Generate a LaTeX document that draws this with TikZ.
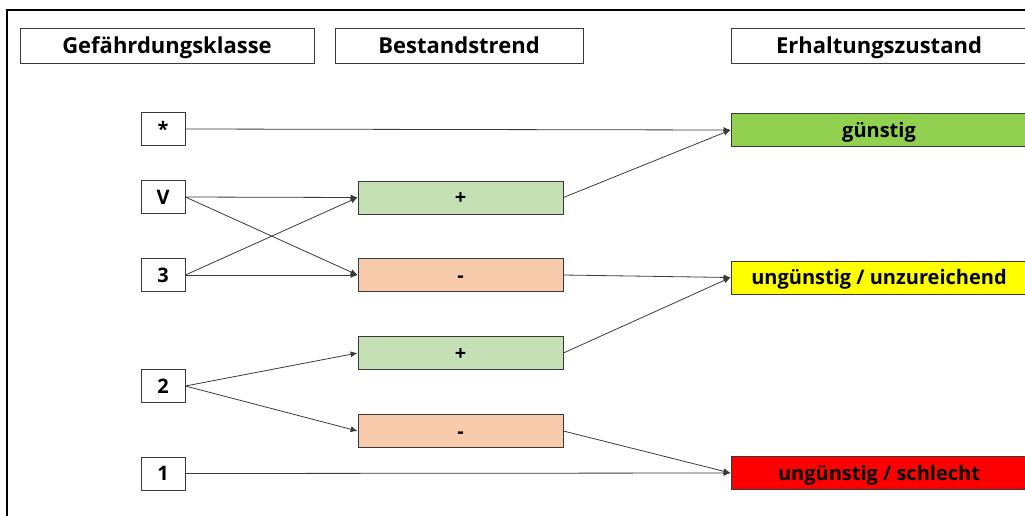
\documentclass[tikz,border=0pt]{standalone}
\usepackage{fontspec}
\setmainfont{Open Sans}
\usepackage{xcolor}
\usepackage{tikz}
\usetikzlibrary{arrows.meta, positioning}
\definecolor{plusgreen}{HTML}{C5E0B4}
\definecolor{minusorange}{HTML}{F8CBAD}
\definecolor{guengreen}{HTML}{92D050}
\definecolor{unzyellow}{HTML}{FFFF00}
\definecolor{schlred}{HTML}{FF0000}
\definecolor{edgegray}{HTML}{3A3A3A}

\begin{document}
\begin{tikzpicture}[
  x=1pt, y=-1pt,
  box/.style={draw=edgegray, line width=0.8pt, inner sep=0pt, font=\fontsize{20}{24}\selectfont\bfseries, text height=14.3pt, text depth=0pt},
  kopf/.style={box, font=\fontsize{22}{26}\selectfont\bfseries, text height=15.7pt, minimum height=35pt},
  klasse/.style={box, minimum width=44pt, minimum height=33pt},
  trend/.style={box, minimum width=205pt, minimum height=33pt},
  zustand/.style={box, minimum width=296pt, minimum height=33pt},
  pfeil/.style={-{Latex[length=7pt,width=6pt]}, draw=edgegray, line width=0.8pt},
]
  \useasboundingbox (0,0) rectangle (1025,515);
  \begin{scope}
    \clip (0,0) rectangle (1025,515);
    \draw[line width=1.6pt] (7,530) -- (7,10) -- (1040,10);

    % column heads
    \node[kopf, minimum width=294pt] (hKlasse) at (167,45.5) {Gefährdungsklasse};
    \node[kopf, minimum width=248pt] (hTrend) at (459,45.5) {Bestandstrend};
    \node[kopf, minimum width=296pt] (hZustand) at (879,45.5) {Erhaltungszustand};

    % Gefaehrdungsklassen
    \node[klasse] (kStern) at (163,129) {*};
    \node[klasse] (kV) at (163,197) {V};
    \node[klasse] (kDrei) at (163,275) {3};
    \node[klasse] (kZwei) at (163,386) {2};
    \node[klasse] (kEins) at (163,473.5) {1};

    % Bestandstrend
    \node[trend, fill=plusgreen] (tPlusA) at (460.5,197.5) {+};
    \node[trend, fill=minusorange] (tMinusA) at (460.5,275) {-};
    \node[trend, fill=plusgreen] (tPlusB) at (460.5,353) {+};
    \node[trend, fill=minusorange] (tMinusB) at (460.5,431) {-};

    % Erhaltungszustand
    \node[zustand, fill=guengreen] (zGuen) at (879,130) {günstig};
    \node[zustand, fill=unzyellow] (zUnz) at (879,277.5) {ungünstig / unzureichend};
    \node[zustand, fill=schlred] (zSchl) at (879,473) {ungünstig / schlecht};

    \draw[pfeil] (kStern.east) -- (zGuen.west);
    \draw[pfeil] (kV.east) -- (tPlusA.west);
    \draw[pfeil] (kV.east) -- (tMinusA.west);
    \draw[pfeil] (kDrei.east) -- (tPlusA.west);
    \draw[pfeil] (kDrei.east) -- (tMinusA.west);
    \draw[pfeil] (kZwei.east) -- (tPlusB.west);
    \draw[pfeil] (kZwei.east) -- (tMinusB.west);
    \draw[pfeil] (kEins.east) -- (zSchl.west);
    \draw[pfeil] (tPlusA.east) -- (zGuen.west);
    \draw[pfeil] (tMinusA.east) -- (zUnz.west);
    \draw[pfeil] (tPlusB.east) -- (zUnz.west);
    \draw[pfeil] (tMinusB.east) -- (zSchl.west);
  \end{scope}
\end{tikzpicture}
\end{document}
